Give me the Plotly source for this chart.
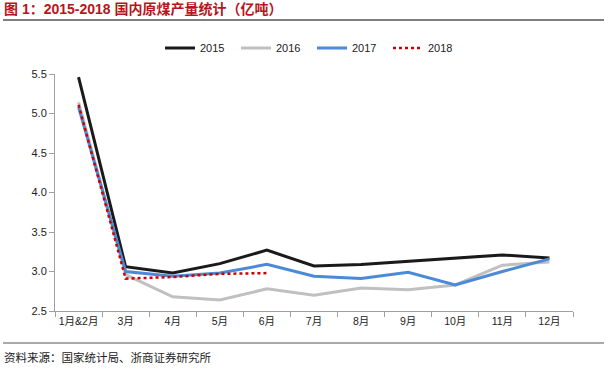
import plotly.graph_objects as go

months = ["1月&2月", "3月", "4月", "5月", "6月", "7月", "8月", "9月", "10月", "11月", "12月"]
y2015 = [5.46, 3.06, 2.98, 3.10, 3.27, 3.07, 3.09, 3.13, 3.17, 3.21, 3.17]
y2016 = [5.14, 2.96, 2.68, 2.64, 2.78, 2.70, 2.79, 2.77, 2.83, 3.08, 3.12]
y2017 = [5.08, 3.00, 2.94, 2.98, 3.09, 2.94, 2.91, 2.99, 2.83, 3.00, 3.16]
y2018 = [5.11, 2.91, 2.93, 2.97, 2.98]

title_text = "图 1：2015-2018 国内原煤产量统计（亿吨）"
source_text = "资料来源：国家统计局、浙商证券研究所"

fig = go.Figure()
fig.add_trace(go.Scatter(x=months, y=y2015, name="2015", mode="lines",
                         line=dict(color="#1a1a1a", width=3)))
fig.add_trace(go.Scatter(x=months, y=y2016, name="2016", mode="lines",
                         line=dict(color="#c0c0c0", width=3)))
fig.add_trace(go.Scatter(x=months, y=y2017, name="2017", mode="lines",
                         line=dict(color="#4a8ad6", width=3)))
fig.add_trace(go.Scatter(x=months[:len(y2018)], y=y2018, name="2018", mode="lines",
                         line=dict(color="#cc0000", width=2.5, dash="dot")))

font_family = "Liberation Sans, Arial, Noto Sans CJK SC, sans-serif"

fig.update_layout(
    width=608, height=370,
    margin=dict(l=55, r=35, t=74, b=59, autoexpand=False),
    paper_bgcolor="white", plot_bgcolor="white",
    font=dict(family=font_family, size=11, color="#222222"),
    showlegend=True,
    legend=dict(orientation="h", x=(160-55)/518, xanchor="left", y=1.11, yanchor="middle",
                font=dict(size=11, color="#222222"),
                entrywidth=31, entrywidthmode="pixels",
                bgcolor="rgba(0,0,0,0)"),
    xaxis=dict(
        type="category", showgrid=False, zeroline=False, automargin=False,
        showline=True, linecolor="#a0a0a0", linewidth=1,
        ticks="outside", ticklen=5, tickcolor="#a0a0a0", tickangle=0,
        tickson="boundaries", tickfont=dict(size=10.5, color="#222222"),
        range=[-0.5, 10.5],
    ),
    yaxis=dict(
        range=[2.5, 5.5], dtick=0.5, tickformat=".1f", automargin=False,
        showgrid=False, zeroline=False,
        showline=True, linecolor="#a0a0a0", linewidth=1,
        ticks="outside", ticklen=5, tickcolor="#a0a0a0",
        tickfont=dict(size=11, color="#222222"),
    ),
    annotations=[
        dict(text="<b>" + title_text + "</b>", xref="paper", yref="paper",
             x=-53/518, y=1 + (74-9)/237, xanchor="left", yanchor="middle",
             showarrow=False, font=dict(size=14, color="#b8141c",
                                         family="Liberation Sans, Noto Sans CJK SC, sans-serif")),
        dict(text=source_text, xref="paper", yref="paper",
             x=-53/518, y=-(357-311)/237, xanchor="left", yanchor="middle",
             showarrow=False, font=dict(size=11.5, color="#222222",
                                         family="Noto Sans CJK SC, sans-serif")),
    ],
    shapes=[
        dict(type="line", xref="paper", yref="paper",
             x0=-52/518, x1=(604-55)/518, y0=1 + (74-20)/237, y1=1 + (74-20)/237,
             line=dict(color="#555555", width=1.5)),
        dict(type="line", xref="paper", yref="paper",
             x0=-52/518, x1=(604-55)/518, y0=-(343-311)/237, y1=-(343-311)/237,
             line=dict(color="#555555", width=1)),
    ],
)

fig.write_html("out.html", config={"displayModeBar": False},
               post_script="document.body.style.margin='0';document.body.style.overflow='hidden';")
